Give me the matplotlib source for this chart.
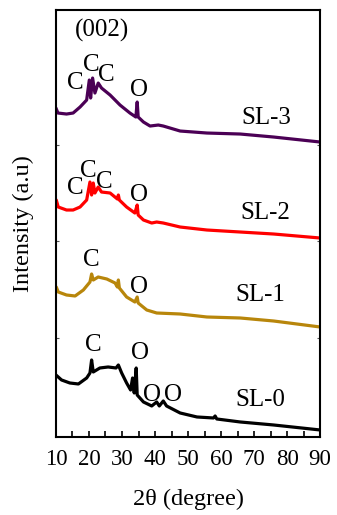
import matplotlib
matplotlib.use("Agg")
import matplotlib.pyplot as plt

plt.rcParams['font.family'] = ['Liberation Serif', 'DejaVu Serif']

# XRD patterns (2theta in degree, intensity in a.u.)
tt_sl3 = [10, 10.6, 13.2, 15.2, 17.3, 19.3, 20.1, 20.5, 21.1, 21.8, 22.8, 23.8, 26.4,
          29.4, 32.4, 34.2, 34.6, 34.9, 36.5, 38.5, 41, 42.5, 47.6, 55.7, 65.8, 75.9, 90]
in_sl3 = [329, 324, 323, 324, 330, 337, 357, 339, 359, 344, 354, 349, 342,
          332, 324, 320, 335, 320, 315, 311, 312, 311, 306, 304, 303, 300, 295]

tt_sl2 = [10.1, 10.7, 13.2, 15.2, 17.3, 19.3, 20.3, 20.8, 21.3, 21.8, 22.8, 23.8, 26.4,
          28.6, 28.9, 29.2, 31.4, 33.9, 34.6, 34.9, 36.5, 39, 40.5, 42.5, 47.6, 55.7,
          65.8, 75.9, 90]
in_sl2 = [237, 230, 227, 227, 230, 237, 255, 242, 254, 244, 250, 245, 244,
          238, 242, 237, 230, 224, 232, 222, 217, 214, 215, 214, 210, 207,
          205, 203, 199]

tt_sl1 = [10.1, 10.7, 13.2, 15.8, 18.3, 20.3, 20.8, 21.3, 22.8, 25.4, 27.9, 28.6, 28.9,
          29.2, 31.4, 33.9, 34.6, 34.9, 37.5, 40.5, 47.6, 55.7, 65.8, 75.9, 90]
in_sl1 = [150, 145, 142, 141, 147, 155, 163, 157, 160, 158, 154, 150, 157,
          149, 140, 135, 140, 134, 127, 124, 123, 120, 119, 116, 110]

tt_sl0 = [10, 11.7, 14.2, 16.8, 19.3, 20.3, 20.8, 21.3, 23.3, 25.8, 28.2, 28.9, 29.9,
          31.4, 32.6, 33.2, 33.7, 34.3, 34.6, 36.5, 39, 40.5, 41.3, 42.5, 43.5, 47.6,
          52.7, 57.7, 58.2, 58.7, 65.8, 75.9, 90]
in_sl0 = [62, 57, 54, 53, 59, 64, 77, 65, 69, 70, 69, 72, 64,
          54, 47, 59, 44, 69, 42, 35, 31, 35, 31, 36, 31, 24,
          20, 19, 21, 18, 15, 12, 7]

series = [(tt_sl0, in_sl0, 'black', 'SL-0'),
          (tt_sl1, in_sl1, '#b8860b', 'SL-1'),
          (tt_sl2, in_sl2, '#ff0000', 'SL-2'),
          (tt_sl3, in_sl3, '#4b0055', 'SL-3')]

# peak annotations: (2theta, intensity, text)
peak_labels = [(15.8, 354, 'C'), (20.8, 372, 'C'), (25.4, 362, 'C'), (35.2, 347, 'O'),
               (23.8, 407, '(002)'),
               (15.8, 249, 'C'), (19.8, 266, 'C'), (24.5, 255, 'C'), (35.2, 242, 'O'),
               (20.8, 177, 'C'), (35.2, 150, 'O'),
               (21.3, 92, 'C'), (35.5, 84, 'O'), (39.0, 42, 'O'), (45.5, 42, 'O')]
name_pos = [(71.8, 37), (71.8, 142), (73.3, 224), (73.8, 319)]

fig = plt.figure(figsize=(3.37, 5.15), dpi=100)
ax = fig.add_axes([0.166, 0.1515, 0.784, 0.829])

for (x, y, c, name), (nx, ny) in zip(series, name_pos):
    ax.plot(x, y, color=c, lw=2.3, solid_joinstyle='round', solid_capstyle='round')
    ax.text(nx, ny, name, fontsize=18, ha='center', va='center')

for x, y, t in peak_labels:
    ax.text(x, y, t, fontsize=18, ha='center', va='center')

ax.set_xlim(10, 90)
ax.set_ylim(0, 427)
ax.set_xticks(range(10, 91, 10))
ax.set_xticks(range(15, 90, 10), minor=True)
ax.set_yticks([99, 196, 292])
ax.set_yticklabels([])
ax.tick_params(axis='x', which='both', direction='in', length=4, width=1.2,
               labelsize=16.5, pad=9)
ax.tick_params(axis='y', direction='in', length=2, width=0.8, right=True,
               color='#555555')
for s in ax.spines.values():
    s.set_linewidth(1.5)

ax.set_xlabel('2θ (degree)', fontsize=17.5, labelpad=13)
ax.set_ylabel('Intensity (a.u)', fontsize=17.5, labelpad=12)

fig.savefig('out.png', dpi=100)
